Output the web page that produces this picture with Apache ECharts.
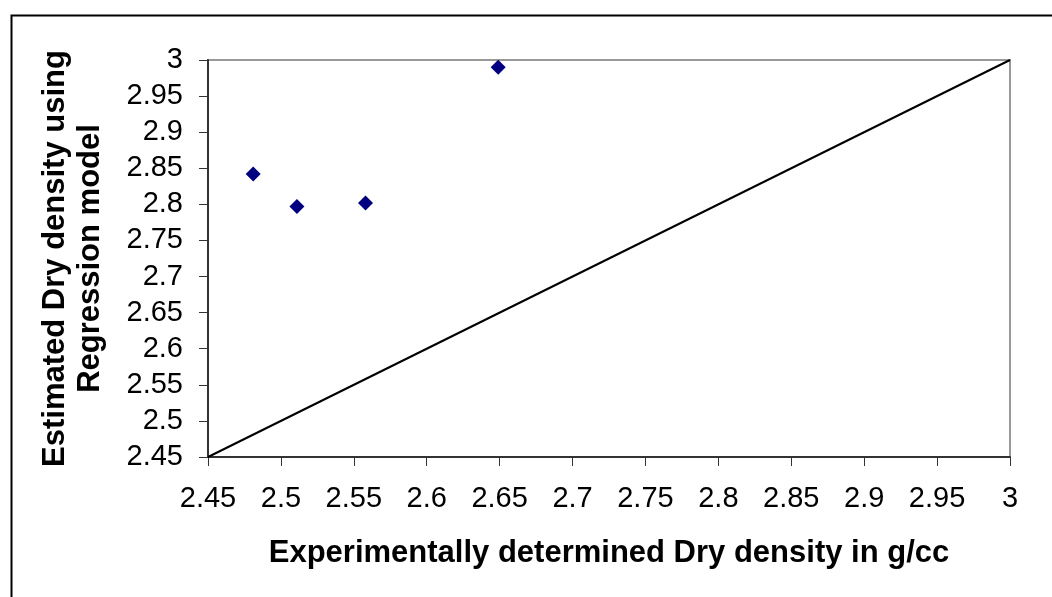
<!DOCTYPE html>
<html>
<head>
<meta charset="utf-8">
<script src="https://cdn.jsdelivr.net/npm/echarts@6/dist/echarts.min.js"></script>
<style>
  html, body { margin: 0; padding: 0; background: #fff; }
  #chart { width: 1052px; height: 597px; }
</style>
</head>
<body>
<div id="chart"></div>
<script>
// measured points
const expDensity = [2.481, 2.511, 2.558, 2.649];
const estDensity = [2.842, 2.797, 2.802, 2.990];
// 1:1 reference line
const lineX = [2.45, 3];
const lineY = [2.45, 3];
const axisMin = 2.45;
const axisMax = 3;
const axisStep = 0.05;

const chart = echarts.init(document.getElementById('chart'));
const font = "'Liberation Sans', Arial, sans-serif";
const fmt = v => String(+v.toFixed(2));

const axisCommon = {
	type: 'value',
	min: axisMin,
	max: axisMax,
	interval: axisStep,
	splitLine: { show: false },
	axisLine: { show: true, lineStyle: { color: '#333', width: 2 } },
	axisTick: { show: true, inside: false, length: 9, lineStyle: { color: '#333', width: 1 } },
	nameLocation: 'middle',
	nameTextStyle: { fontFamily: font, fontSize: 31, fontWeight: 'bold', color: '#000', lineHeight: 35 }
};

chart.setOption({
	animation: false,
	backgroundColor: '#fff',
	graphic: [{
		type: 'rect',
		left: 9, top: 13,
		shape: { width: 1100, height: 700 },
		style: { fill: 'none', stroke: '#000', lineWidth: 2 },
		silent: true
	}],
	grid: {
		left: 208, right: 42, top: 60, bottom: 140,
		show: true, borderColor: '#999', borderWidth: 2
	},
	xAxis: Object.assign({}, axisCommon, {
		name: 'Experimentally determined Dry density in g/cc',
		nameGap: 79,
		axisLabel: { margin: 27, fontFamily: font, fontSize: 29, color: '#000', formatter: fmt }
	}),
	yAxis: Object.assign({}, axisCommon, {
		name: 'Estimated Dry density using\nRegression model',
		nameGap: 100,
		axisLabel: { margin: 25, fontFamily: font, fontSize: 29, color: '#000', formatter: fmt }
	}),
	series: [
		{
			type: 'line',
			data: lineX.map((x, i) => [x, lineY[i]]),
			symbol: 'none',
			lineStyle: { color: '#000', width: 2 },
			z: 2
		},
		{
			type: 'scatter',
			data: expDensity.map((x, i) => [x, estDensity[i]]),
			symbol: 'diamond',
			symbolSize: 15,
			itemStyle: { color: '#000080', opacity: 1 },
			z: 3
		}
	]
});
</script>
</body>
</html>
